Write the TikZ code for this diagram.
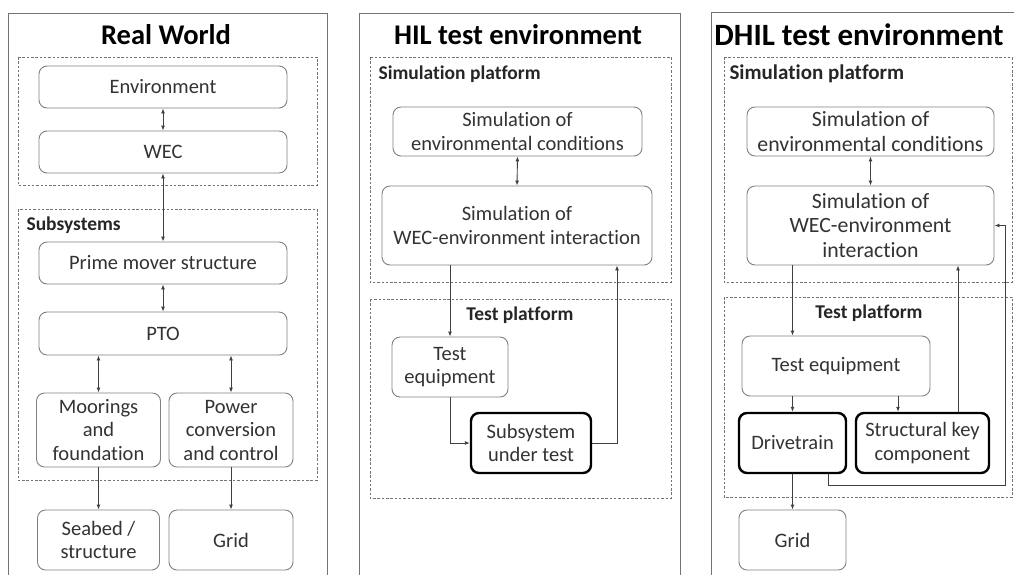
\documentclass[tikz,border=0pt]{standalone}
\usepackage{fontspec}
\setmainfont{Carlito}[Ligatures=NoCommon]
\usetikzlibrary{arrows.meta}
\begin{document}
\begin{tikzpicture}[x=1pt,y=-1pt,
  panel/.style={draw=black!55,line width=0.9pt},
  group/.style={draw=black!55,line width=0.7pt,dash pattern=on 2.5pt off 1.8pt},
  blk/.style={draw=black!50,line width=0.9pt,rounded corners=8pt,align=center,
    inner sep=2pt,text=black!80,font=\fontsize{20.5}{23.5}\selectfont},
  bigblk/.style={blk,font=\fontsize{21.8}{24.5}\selectfont},
  keyblk/.style={blk,draw=black,line width=2.4pt},
  title/.style={font=\fontsize{28.5}{31}\selectfont\bfseries,text=black},
  grouplabel/.style={font=\fontsize{19.5}{22}\selectfont\bfseries,text=black!85},
  arr/.style={draw=black!75,line width=0.9pt,-{Latex[length=5pt,width=4pt]}},
  darr/.style={draw=black!75,line width=0.9pt,{Latex[length=5pt,width=4pt]}-{Latex[length=5pt,width=4pt]}}]
\useasboundingbox (0,0) rectangle (1014,574);
\clip (0,0) rectangle (1014,574);
\fill[white] (0,0) rectangle (1014,574);

% ---------------- Real World ----------------
\draw[panel] (8,13) rectangle (327,600);
\node[title] (t1) at (166,35) {Real World};
\draw[group] (18,57) rectangle (317,185);
\draw[group] (18,209) rectangle (317,480);
\node[grouplabel,anchor=west] (g1) at (23,225) {Subsystems};

\node[blk,minimum width=248pt,minimum height=42pt] (env) at (163,87) {Environment};
\node[blk,minimum width=248pt,minimum height=42pt] (wec) at (163,152) {WEC};
\node[blk,minimum width=248pt,minimum height=42pt] (pms) at (163,263) {Prime mover structure};
\node[blk,minimum width=248pt,minimum height=43pt] (pto) at (163,333.5) {PTO};
\node[blk,minimum width=124pt,minimum height=74pt] (moor) at (98.5,430) {Moorings\\and\\foundation};
\node[blk,minimum width=124pt,minimum height=74pt] (pcc) at (231,430) {Power\\conversion\\and control};
\node[blk,minimum width=122pt,minimum height=60pt] (seabed) at (98.5,540) {Seabed /\\structure};
\node[blk,minimum width=124pt,minimum height=60pt] (grid1) at (231,540) {Grid};

\draw[darr] (env.south) -- (wec.north);
\draw[darr] (wec.south) -- (pms.north);
\draw[darr] (pms.south) -- (pto.north);
\draw[darr] (moor.north |- pto.south) -- (moor.north);
\draw[darr] (pcc.north |- pto.south) -- (pcc.north);
\draw[arr] (moor.south) -- (seabed.north);
\draw[arr] (pcc.south) -- (grid1.north);

% ---------------- HIL test environment ----------------
\draw[panel] (359,13) rectangle (680,600);
\node[title] (t2) at (518,35) {HIL test environment};
\draw[group] (370,57) rectangle (671,282);
\node[grouplabel,anchor=west] (g2) at (375,74) {Simulation platform};
\draw[group] (370,299) rectangle (671,498);
\node[grouplabel] (g3) at (520,315) {Test platform};

\node[blk,minimum width=249pt,minimum height=49pt] (simenv2) at (517.5,131.5) {Simulation of\\environmental conditions};
\node[blk,minimum width=270pt,minimum height=79pt] (simwec2) at (517,225.5) {Simulation of\\WEC-environment interaction};
\node[blk,minimum width=116pt,minimum height=60pt] (testeq2) at (450,367) {Test\\equipment};
\node[keyblk,minimum width=120pt,minimum height=60pt] (sut) at (531,443) {Subsystem\\under test};

\draw[darr] (simenv2.south) -- (simwec2.north);
\draw[arr] (testeq2.north |- simwec2.south) -- (testeq2.north);
\draw[arr] (testeq2.south) |- (sut.west);
\draw[arr] (sut.east) -| ([xshift=100pt]simwec2.south);

% ---------------- DHIL test environment ----------------
\draw[panel] (711,12) rectangle (1040,600);
\node[title,font=\fontsize{31}{34}\selectfont\bfseries] (t3) at (859,35) {DHIL test environment};
\draw[group] (724,57) rectangle (1012,282);
\node[grouplabel,font=\fontsize{21}{24}\selectfont\bfseries,anchor=west] (g4) at (726,74) {Simulation platform};
\draw[group] (724,297) rectangle (1012,497);
\node[grouplabel] (g5) at (869,313) {Test platform};

\node[bigblk,minimum width=247pt,minimum height=49pt] (simenv3) at (870.5,131.5) {Simulation of\\environmental conditions};
\node[bigblk,minimum width=247pt,minimum height=79pt] (simwec3) at (870.5,225.5) {Simulation of\\WEC-environment\\interaction};
\node[blk,minimum width=188pt,minimum height=60pt] (testeq3) at (836,366) {Test equipment};
\node[keyblk,minimum width=107pt,minimum height=60pt] (drive) at (792.5,443) {Drivetrain};
\node[keyblk,minimum width=133pt,minimum height=60pt] (skc) at (922.5,443) {Structural key\\component};
\node[blk,minimum width=107pt,minimum height=60pt] (grid3) at (792.5,540) {Grid};
\coordinate (fb) at (1005,485);

\draw[darr] (simenv3.south) -- (simwec3.north);
\draw[arr] (drive.north |- simwec3.south) -- (drive.north |- testeq3.north);
\draw[arr] (drive.north |- testeq3.south) -- (drive.north);
\draw[arr] ([xshift=-24.5pt]skc.north |- testeq3.south) -- ([xshift=-24.5pt]skc.north);
\draw[arr] ([xshift=35.5pt]skc.north) -- ([xshift=35.5pt]skc.north |- simwec3.south);
\draw[arr] ([xshift=35.5pt]drive.south) |- (fb) |- (simwec3.east);
\draw[arr] (drive.south) -- (grid3.north);
\end{tikzpicture}
\end{document}
